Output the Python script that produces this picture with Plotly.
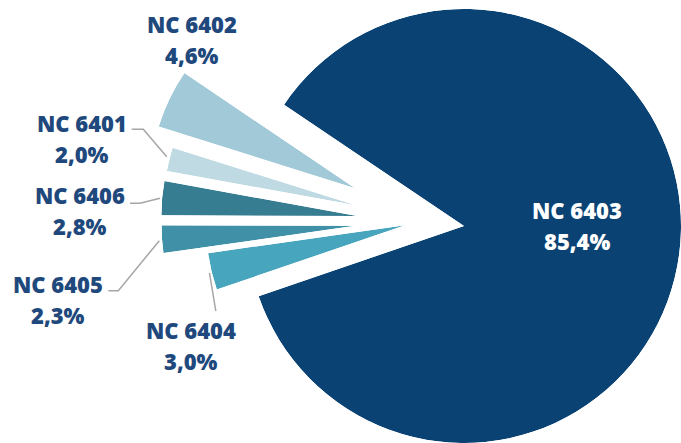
import plotly.graph_objects as go

# Share of each tariff heading (%), in drawing order (counterclockwise)
categories = ["NC 6402", "NC 6401", "NC 6406", "NC 6405", "NC 6404", "NC 6403"]
shares = [4.6, 2.0, 2.8, 2.3, 3.0, 85.4]

colors = ["#A1C9D8", "#BFDAE3", "#377D91", "#4090A8", "#48A5BE", "#094273"]

W, H = 681, 443
START_ANGLE = 146.0  # first slice edge, degrees counterclockwise from 3 o'clock

# Where each wedge sits on the page: apex (px from top-left) and radius (px)
wedge_geom = {
    "NC 6402": (355.2, 188.3, 206),
    "NC 6401": (355.8, 205.3, 192),
    "NC 6406": (357.3, 216.0, 196),
    "NC 6405": (355.5, 225.8, 194),
    "NC 6404": (405.1, 225.2, 199),
    "NC 6403": (464.0, 226.0, 217),
}

# Label placement (px): name line centre, value line centre, text colour
label_pos = {
    "NC 6402": (192.5, 24.3, 55.3, "#1F497D"),
    "NC 6401": (82.0, 123.3, 154.0, "#1F497D"),
    "NC 6406": (80.0, 195.0, 226.0, "#1F497D"),
    "NC 6405": (57.5, 284.3, 315.3, "#1F497D"),
    "NC 6404": (191.0, 330.0, 361.0, "#1F497D"),
    "NC 6403": (577.0, 210.0, 241.0, "#FFFFFF"),
}

# Leader lines (px polylines)
leaders = [
    [(131.7, 129.3), (143.3, 129.3), (166.7, 156.7)],
    [(130.0, 203.3), (140.0, 203.3), (160.0, 198.3)],
    [(108.3, 290.7), (118.3, 290.7), (159.3, 240.7)],
    [(209.5, 273.0), (215.8, 311.0)],
]


def fmt_pct(v):
    return f"{v:.1f}".replace(".", ",") + "%"


def sector_bbox(sector):
    """Bounding box of a polar sector in unit coords (same rules as plotly.js)."""
    import math
    s0, s1 = sector
    arc = s1 - s0
    a0 = s0 % 360
    a1 = a0 + arc
    ax0, ay0 = math.cos(math.radians(a0)), math.sin(math.radians(a0))
    ax1, ay1 = math.cos(math.radians(a1)), math.sin(math.radians(a1))
    if (a0 <= 90 and a1 >= 90) or (a0 > 90 and a1 >= 450):
        y1 = 1
    elif ay0 <= 0 and ay1 <= 0:
        y1 = 0
    else:
        y1 = max(ay0, ay1)
    if (a0 <= 180 and a1 >= 180) or (a0 > 180 and a1 >= 540):
        x0 = -1
    elif ax0 >= 0 and ax1 >= 0:
        x0 = 0
    else:
        x0 = min(ax0, ax1)
    if (a0 <= 270 and a1 >= 270) or (a0 > 270 and a1 >= 630):
        y0 = -1
    elif ay0 >= 0 and ay1 >= 0:
        y0 = 0
    else:
        y0 = min(ay0, ay1)
    if a1 >= 360:
        x1 = 1
    elif ax0 <= 0 and ax1 <= 0:
        x1 = 0
    else:
        x1 = max(ax0, ax1)
    return x0, y0, x1, y1


def polar_domain(sector, cx, cy, r):
    x0, y0, x1, y1 = sector_bbox(sector)
    left, right = cx + r * x0, cx + r * x1
    top, bottom = cy - r * y1, cy - r * y0
    dx = [max(0.0, left / W), min(1.0, right / W)]
    dy = [max(0.0, 1 - bottom / H), min(1.0, 1 - top / H)]
    return dx, dy


fig = go.Figure()
total = sum(shares)
angle = START_ANGLE
layout_polars = {}
for i, (cat, val, col) in enumerate(zip(categories, shares, colors)):
    span = val / total * 360.0
    sector = [angle, angle + span]
    cx, cy, r = wedge_geom[cat]
    dx, dy = polar_domain(sector, cx, cy, r)
    name = "polar" if i == 0 else f"polar{i + 1}"
    layout_polars[name] = dict(
        domain=dict(x=dx, y=dy),
        sector=sector,
        bgcolor="rgba(0,0,0,0)",
        radialaxis=dict(range=[0, 1], visible=False),
        angularaxis=dict(visible=False, rotation=0, direction="counterclockwise"),
    )
    fig.add_trace(go.Barpolar(
        r=[1], theta=[angle + span / 2], width=[span],
        marker=dict(color=col, line=dict(width=0)),
        name=cat, subplot=name,
        hovertemplate=f"{cat}: {fmt_pct(val)}<extra></extra>",
    ))
    angle += span

annotations = []
for cat, val in zip(categories, shares):
    x, yn, yv, tc = label_pos[cat]
    for text, y in ((cat, yn), (fmt_pct(val), yv)):
        annotations.append(dict(
            x=x / W, y=1 - y / H, xref="paper", yref="paper",
            text=text, showarrow=False, xanchor="center", yanchor="middle",
            font=dict(family="Open Sans", size=22, color=tc, weight=800),
        ))

shapes = []
for pts in leaders:
    path = "M " + " L ".join(f"{x / W},{1 - y / H}" for x, y in pts)
    shapes.append(dict(type="path", path=path, xref="paper", yref="paper",
                       line=dict(color="#A6A6A6", width=1.5)))

fig.update_layout(
    width=W, height=H, autosize=False,
    margin=dict(l=0, r=0, t=0, b=0),
    paper_bgcolor="white", plot_bgcolor="white",
    showlegend=False,
    annotations=annotations, shapes=shapes,
    **layout_polars,
)

fig.write_html("out.html")
